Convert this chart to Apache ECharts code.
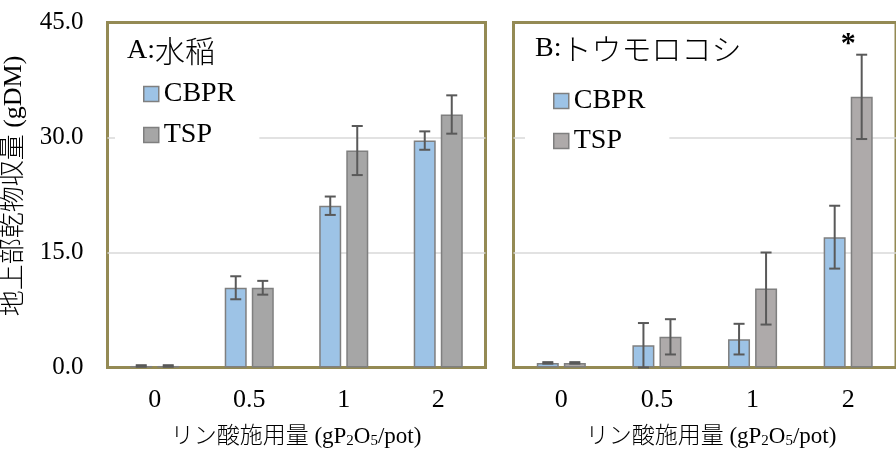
<!DOCTYPE html>
<html>
<head>
<meta charset="utf-8">
<script src="https://cdn.jsdelivr.net/npm/echarts@6/dist/echarts.min.js"></script>
<style>html,body{margin:0;padding:0;background:#fff;}#main{width:896px;height:458px;}</style>
</head>
<body>
<div id="main"></div>
<script>
// ---- data ----
const categories = ['0', '0.5', '1', '2'];
const yTicks = [0, 15, 30, 45];
const riceCBPR = [0.2, 10.4, 21.1, 29.6];
const riceCBPRErr = [0.1, 1.5, 1.2, 1.2];
const riceTSP = [0.2, 10.4, 28.3, 33.0];
const riceTSPErr = [0.1, 0.9, 3.2, 2.5];
const cornCBPR = [0.6, 2.9, 3.7, 17.0];
const cornCBPRErr = [0.1, 2.9, 2.0, 4.1];
const cornTSP = [0.6, 4.0, 10.3, 35.3];
const cornTSPErr = [0.1, 2.3, 4.7, 5.5];
const cornSig = ['', '', '', '*'];

const FONT = "'Liberation Serif', 'Noto Sans CJK JP', serif";
const JP = "'Noto Sans CJK JP', sans-serif";
const C_BLUE = '#9DC3E6';
const C_GRAY_A = '#A6A6A6';
const C_GRAY_B = '#AEAAAA';
const C_EDGE = '#7F7F7F';
const C_FRAME = '#948A54';

function errData(vals, errs, sig) {
  return vals.map((v, i) => [i, v - errs[i], v + errs[i], sig ? sig[i] : '']);
}

function errSeries(gridIdx, vals, errs, off, sig) {
  return {
    type: 'custom',
    xAxisIndex: gridIdx, yAxisIndex: gridIdx,
    data: errData(vals, errs, sig),
    encode: { x: 0, y: [1, 2] },
    z: 5,
    silent: true,
    renderItem: function (params, api) {
      const i = api.value(0);
      const lo = api.coord([i, api.value(1)]);
      const hi = api.coord([i, api.value(2)]);
      const x = lo[0] + off;
      const hw = 5.5;
      const st = { stroke: '#595959', lineWidth: 2 };
      const children = [
        { type: 'line', shape: { x1: x, y1: hi[1], x2: x, y2: lo[1] }, style: st },
        { type: 'line', shape: { x1: x - hw, y1: hi[1], x2: x + hw, y2: hi[1] }, style: st },
        { type: 'line', shape: { x1: x - hw, y1: lo[1], x2: x + hw, y2: lo[1] }, style: st }
      ];
      const s = sig ? sig[i] : '';
      if (s) {
        children.push({
          type: 'text',
          style: { text: s, x: lo[0], y: hi[1] - 10, textAlign: 'center', textVerticalAlign: 'middle',
                   fontSize: 30, fontWeight: 'bold', fontFamily: FONT, fill: '#000' }
        });
      }
      return { type: 'group', children: children };
    }
  };
}

function barSeries(gridIdx, name, vals, color) {
  return {
    type: 'bar', name: name,
    xAxisIndex: gridIdx, yAxisIndex: gridIdx,
    data: vals,
    barWidth: 22, barGap: '23%',
    itemStyle: { color: color, borderColor: C_EDGE, borderWidth: 1.5 },
    silent: true
  };
}

function legendFor(left, top, gap, tspColor) {
  return {
    left: left, top: top, orient: 'vertical',
    backgroundColor: '#fff',
    padding: [6, 24, 6, 28],
    itemGap: gap, itemWidth: 15, itemHeight: 15,
    icon: 'rect',
    textStyle: { fontFamily: FONT, fontSize: 28, lineHeight: 26, color: '#000' },
    selectedMode: false,
    data: [
      { name: 'CBPR', itemStyle: { color: C_BLUE, borderColor: C_EDGE, borderWidth: 1.5 } },
      { name: 'TSP', itemStyle: { color: tspColor, borderColor: C_EDGE, borderWidth: 1.5 } }
    ]
  };
}

function xAxisFor(gridIdx) {
  return {
    type: 'category', gridIndex: gridIdx, data: categories,
    axisLine: { show: false }, axisTick: { show: false },
    axisLabel: { fontFamily: FONT, fontSize: 26, color: '#000', margin: 20 }
  };
}
function yAxisFor(gridIdx, showLabels) {
  return {
    type: 'value', gridIndex: gridIdx,
    min: yTicks[0], max: yTicks[yTicks.length - 1], interval: yTicks[1] - yTicks[0],
    axisLine: { show: false }, axisTick: { show: false },
    axisLabel: { show: showLabels, fontFamily: FONT, fontSize: 25, color: '#000', margin: 24,
                 formatter: v => v.toFixed(1) },
    splitLine: { showMinLine: false, showMaxLine: false, lineStyle: { color: '#D9D9D9', width: 1.5 } }
  };
}

const nameRich = {
  a: { fontFamily: FONT, fontSize: 23, fontWeight: 300, fill: '#000', lineHeight: 24 },
  s: { fontFamily: FONT, fontSize: 15, fill: '#000', lineHeight: 8, verticalAlign: 'bottom' }
};
const xName = '{a|リン酸施用量 (gP}{s|2}{a|O}{s|5}{a|/pot)}';
const titleRich = {
  l: { fontFamily: FONT, fontSize: 28, fill: '#000' },
  j: { fontFamily: JP, fontSize: 30, fontWeight: 300, fill: '#000' }
};

const option = {
  animation: false,
  backgroundColor: '#fff',
  grid: [
    { left: 107.5, top: 22.5, width: 378, height: 345, show: true, borderColor: C_FRAME, borderWidth: 3, backgroundColor: 'transparent' },
    { left: 513.5, top: 22.5, width: 385, height: 345, show: true, borderColor: C_FRAME, borderWidth: 3, backgroundColor: 'transparent' }
  ],
  xAxis: [xAxisFor(0), xAxisFor(1)],
  yAxis: [yAxisFor(0, true), yAxisFor(1, false)],
  legend: [legendFor(115, 74, 13, C_GRAY_A), legendFor(525, 81, 12, C_GRAY_B)],
  series: [
    barSeries(0, 'CBPR', riceCBPR, C_BLUE),
    barSeries(0, 'TSP', riceTSP, C_GRAY_A),
    barSeries(1, 'CBPR', cornCBPR, C_BLUE),
    barSeries(1, 'TSP', cornTSP, C_GRAY_B),
    errSeries(0, riceCBPR, riceCBPRErr, -13.5),
    errSeries(0, riceTSP, riceTSPErr, 13.5),
    errSeries(1, cornCBPR, cornCBPRErr, -13.5),
    errSeries(1, cornTSP, cornTSPErr, 13.5, cornSig)
  ],
  graphic: [
    { type: 'text', x: 127, y: 51, z: 10,
      style: { text: '{l|A:}{j|水稲}', rich: titleRich, textAlign: 'left', textVerticalAlign: 'middle' } },
    { type: 'text', x: 535, y: 49, z: 10,
      style: { text: '{l|B:}{j|トウモロコシ}', rich: titleRich, textAlign: 'left', textVerticalAlign: 'middle' } },
    { type: 'text', x: 296, y: 437, z: 10,
      style: { text: xName, rich: nameRich, textAlign: 'center', textVerticalAlign: 'middle' } },
    { type: 'text', x: 711, y: 437, z: 10,
      style: { text: xName, rich: nameRich, textAlign: 'center', textVerticalAlign: 'middle' } },
    { type: 'text', x: 14, y: 186, rotation: Math.PI / 2, z: 10,
      style: { text: '地上部乾物収量 (gDM)', fontFamily: FONT, fontSize: 26, fontWeight: 300, fill: '#000',
               textAlign: 'center', textVerticalAlign: 'middle' } }
  ]
};

const chart = echarts.init(document.getElementById('main'), null, { renderer: 'canvas' });
chart.setOption(option);
</script>
</body>
</html>
